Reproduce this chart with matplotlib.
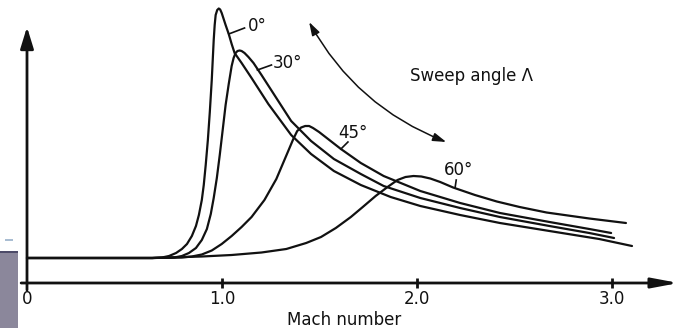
import matplotlib.pyplot as plt
from matplotlib.patches import Rectangle

# drag rise vs Mach number for four sweep angles
mach_0 = [0.0, 0.489, 0.642, 0.692, 0.728, 0.764, 0.794, 0.820, 0.845, 0.866, 0.881,
          0.896, 0.906, 0.916, 0.927, 0.937, 0.947, 0.952, 0.957, 0.962, 0.967, 0.975,
          0.983, 0.990, 0.998, 1.008, 1.018, 1.034, 1.049, 1.064, 1.100, 1.151, 1.237,
          1.354, 1.456, 1.573, 1.711, 1.864, 2.016, 2.220, 2.424, 2.678, 2.933, 3.101]
cd_0 = [0.0100, 0.0100, 0.0100, 0.0102, 0.0108, 0.0120, 0.0136, 0.0156, 0.0188, 0.0228,
        0.0272, 0.0332, 0.0392, 0.0472, 0.0572, 0.0684, 0.0812, 0.0892, 0.0972, 0.1032,
        0.1072, 0.1092, 0.1098, 0.1094, 0.1080, 0.1056, 0.1032, 0.0996, 0.0956, 0.0920,
        0.0880, 0.0820, 0.0716, 0.0592, 0.0516, 0.0448, 0.0392, 0.0344, 0.0308, 0.0272,
        0.0240, 0.0208, 0.0176, 0.0148]

mach_30 = [0.0, 0.642, 0.754, 0.794, 0.830, 0.866, 0.896, 0.922, 0.942, 0.957, 0.973,
           0.988, 1.003, 1.018, 1.034, 1.049, 1.059, 1.069, 1.079, 1.090, 1.100, 1.115,
           1.135, 1.161, 1.202, 1.278, 1.354, 1.456, 1.573, 1.711, 1.828, 2.016, 2.220,
           2.424, 2.678, 2.882, 3.009]
cd_30 = [0.0100, 0.0100, 0.0102, 0.0108, 0.0120, 0.0140, 0.0172, 0.0216, 0.0276, 0.0340,
         0.0420, 0.0512, 0.0612, 0.0712, 0.0796, 0.0868, 0.0900, 0.0920, 0.0928, 0.0930,
         0.0928, 0.0920, 0.0904, 0.0880, 0.0832, 0.0740, 0.0648, 0.0568, 0.0496, 0.0436,
         0.0388, 0.0340, 0.0300, 0.0264, 0.0228, 0.0200, 0.0180]

mach_45 = [0.0, 0.642, 0.794, 0.845, 0.896, 0.947, 0.998, 1.049, 1.100, 1.151, 1.217,
           1.278, 1.339, 1.365, 1.385, 1.405, 1.426, 1.446, 1.466, 1.497, 1.609, 1.711,
           1.828, 2.016, 2.220, 2.424, 2.678, 2.882, 2.994]
cd_45 = [0.0100, 0.0100, 0.0102, 0.0106, 0.0114, 0.0130, 0.0156, 0.0188, 0.0224, 0.0264,
         0.0332, 0.0416, 0.0528, 0.0576, 0.0608, 0.0622, 0.0628, 0.0628, 0.0620, 0.0604,
         0.0536, 0.0480, 0.0428, 0.0368, 0.0320, 0.0280, 0.0244, 0.0216, 0.0200]

mach_60 = [0.0, 0.642, 0.896, 1.049, 1.202, 1.329, 1.431, 1.507, 1.583, 1.660, 1.721,
           1.787, 1.848, 1.899, 1.940, 1.981, 2.021, 2.067, 2.118, 2.184, 2.296, 2.408,
           2.525, 2.663, 2.882, 3.070]
cd_60 = [0.0100, 0.0100, 0.0106, 0.0112, 0.0122, 0.0136, 0.0160, 0.0184, 0.0220, 0.0264,
         0.0304, 0.0348, 0.0384, 0.0412, 0.0424, 0.0428, 0.0426, 0.0418, 0.0404, 0.0382,
         0.0352, 0.0326, 0.0304, 0.0282, 0.0258, 0.0240]

xticks = [0, 1, 2, 3]
xtick_labels = ["0", "1.0", "2.0", "3.0"]

# label text, point on curve, end of leader, text position
labels = [
    ("0°", (1.034, 0.0996), (1.115, 0.1020), (1.181, 0.1028)),
    ("30°", (1.181, 0.0852), (1.253, 0.0872), (1.334, 0.0880)),
    ("45°", (1.609, 0.0536), (1.645, 0.0564), (1.670, 0.0600)),
    ("60°", (2.194, 0.0380), (2.200, 0.0412), (2.210, 0.0452)),
]

fig = plt.figure(figsize=(6.86, 3.28), dpi=100)
ax = fig.add_axes([0, 0, 1, 1])
ax.set_xlim(-0.1384, 3.3778)
ax.set_ylim(-0.018, 0.1132)
ax.axis("off")

ink = "#111111"
for m, cd in [(mach_0, cd_0), (mach_30, cd_30), (mach_45, cd_45), (mach_60, cd_60)]:
    ax.plot(m, cd, color=ink, lw=1.6, solid_joinstyle="round", solid_capstyle="round")

# axes with arrow heads
ax.annotate("", xy=(3.34, 0), xytext=(-0.03, 0),
            arrowprops=dict(arrowstyle="-|>,head_length=1.6,head_width=0.3",
                            mutation_scale=10, lw=2, color=ink, shrinkA=0, shrinkB=0))
ax.annotate("", xy=(0, 0.1024), xytext=(0, -0.0028),
            arrowprops=dict(arrowstyle="-|>,head_length=1.3,head_width=0.4",
                            mutation_scale=10, lw=2, color=ink, shrinkA=0, shrinkB=0))
ax.plot(xticks[1:], [0] * 3, ls="none", marker="|", ms=7, mew=2, color=ink)
for t, lab in zip(xticks, xtick_labels):
    ax.text(t, -0.0066, lab, ha="center", va="center", fontsize=12, color=ink)
ax.text(1.624, -0.0148, "Mach number", ha="center", va="center", fontsize=12, color=ink)

for txt, p, q, pos in labels:
    ax.plot([p[0], q[0]], [p[1], q[1]], color=ink, lw=1.2)
    ax.text(pos[0], pos[1], txt, ha="center", va="center", fontsize=12, color=ink)

ax.annotate("", xy=(2.149, 0.0564), xytext=(1.446, 0.1044),
            arrowprops=dict(arrowstyle="<|-|>,head_length=0.8,head_width=0.25",
                            mutation_scale=10, lw=1.1, color=ink, shrinkA=0, shrinkB=0,
                            connectionstyle="arc3,rad=0.18"))
ax.text(2.276, 0.0828, "Sweep angle Λ", ha="center", va="center", fontsize=12, color=ink)

# grey slide fragment at the lower left corner of the scan
fig.add_artist(Rectangle((0, 0), 18 / 686, 0.2348, transform=fig.transFigure,
                         facecolor="#8b879b", edgecolor="none"))
fig.add_artist(Rectangle((0, 0.2287), 18 / 686, 0.0061, transform=fig.transFigure,
                         facecolor="#4d4b68", edgecolor="none"))
fig.add_artist(Rectangle((5 / 686, 0.2652), 8 / 686, 0.005, transform=fig.transFigure,
                         facecolor="#a9bdd2", edgecolor="none"))

fig.savefig("out.png", dpi=100)
